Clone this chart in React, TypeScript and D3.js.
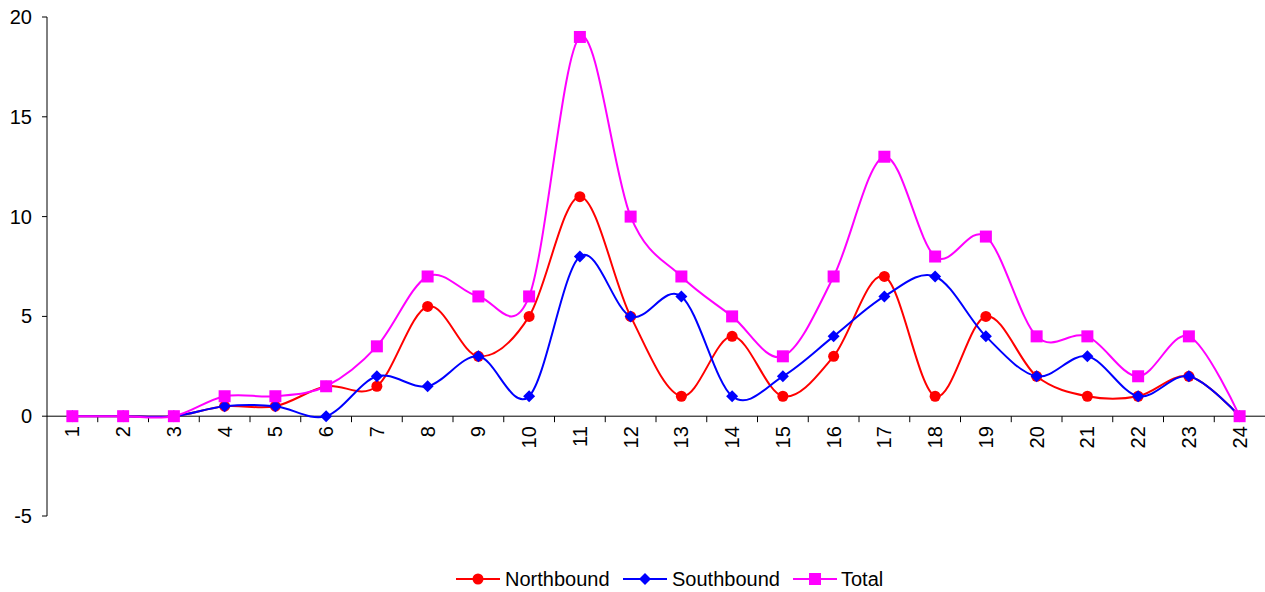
import React from "react";
import * as d3 from "d3";

const categories = ["1","2","3","4","5","6","7","8","9","10","11","12","13","14","15","16","17","18","19","20","21","22","23","24"];
const northbound = [0,0,0,0.5,0.5,1.5,1.5,5.5,3,5,11,5,1,4,1,3,7,1,5,2,1,1,2,0];
const southbound = [0,0,0,0.5,0.5,0,2,1.5,3,1,8,5,6,1,2,4,6,7,4,2,3,1,2,0];
const total = [0,0,0,1,1,1.5,3.5,7,6,6,19,10,7,5,3,7,13,8,9,4,4,2,4,0];
const yTicks = [-5,0,5,10,15,20];

const seriesList = [
  { name: "Northbound", values: northbound, color: "#FF0000", marker: "circle" },
  { name: "Southbound", values: southbound, color: "#0000FF", marker: "diamond" },
  { name: "Total", values: total, color: "#FF00FF", marker: "square" },
];

const W = 1265, H = 592;
const left = 47, right = 1265, top = 17, bottom = 516;
const font = "Liberation Sans, Arial, sans-serif";

function Marker({ type, x, y, color }: { type: string; x: number; y: number; color: string }) {
  if (type === "circle") return <circle cx={x} cy={y} r={5.5} fill={color} />;
  if (type === "diamond") return <path d={`M${x},${y - 6}L${x + 6},${y}L${x},${y + 6}L${x - 6},${y}Z`} fill={color} />;
  return <rect x={x - 6} y={y - 6} width={12} height={12} fill={color} />;
}

export default function App() {
  const x = d3.scaleBand<string>().domain(categories).range([left, right]);
  const y = d3.scaleLinear().domain([-5, 20]).range([bottom, top]);
  const bw = x.bandwidth();
  const cx = (c: string) => (x(c) as number) + bw / 2;
  const line = d3
    .line<number>()
    .x((_, i) => cx(categories[i]))
    .y((v) => y(v))
    .curve(d3.curveCatmullRom.alpha(0));
  const y0 = y(0);
  const legendItems = [
    { lx: 456, tx: 505 },
    { lx: 623, tx: 672 },
    { lx: 793, tx: 841 },
  ];
  const ly = 579;
  return (
    <svg width={W} height={H} style={{ position: "absolute", left: 0, top: 0 }} fontFamily={font}>
      <rect width={W} height={H} fill="#fff" />
      {/* y axis */}
      <line x1={left} x2={left} y1={top} y2={bottom} stroke="#000" strokeWidth={1} />
      {yTicks.map((t) => (
        <g key={t}>
          <line x1={left - 5} x2={left} y1={y(t)} y2={y(t)} stroke="#000" />
          <text x={left - 15} y={y(t)} dy="0.35em" textAnchor="end" fontSize={20}>
            {t}
          </text>
        </g>
      ))}
      {/* x axis at 0 */}
      <line x1={left} x2={right} y1={y0} y2={y0} stroke="#000" />
      {categories.map((c, i) => (
        <g key={c}>
          {i > 0 && <line x1={x(c)} x2={x(c)} y1={y0} y2={y0 + 6} stroke="#000" />}
          <text
            transform={`translate(${cx(c)},${y0 + 10}) rotate(-90)`}
            textAnchor="end"
            dy="0.35em"
            fontSize={20}
          >
            {c}
          </text>
        </g>
      ))}
      {/* series */}
      {seriesList.map((s) => (
        <g key={s.name}>
          <path d={line(s.values) || ""} fill="none" stroke={s.color} strokeWidth={2} />
          {s.values.map((v, i) => (
            <Marker key={i} type={s.marker} x={cx(categories[i])} y={y(v)} color={s.color} />
          ))}
        </g>
      ))}
      {/* legend */}
      {seriesList.map((s, i) => (
        <g key={s.name}>
          <line x1={legendItems[i].lx} x2={legendItems[i].lx + 44} y1={ly} y2={ly} stroke={s.color} strokeWidth={2} />
          <Marker type={s.marker} x={legendItems[i].lx + 22} y={ly} color={s.color} />
          <text x={legendItems[i].tx} y={ly} dy="0.35em" fontSize={20}>
            {s.name}
          </text>
        </g>
      ))}
    </svg>
  );
}
